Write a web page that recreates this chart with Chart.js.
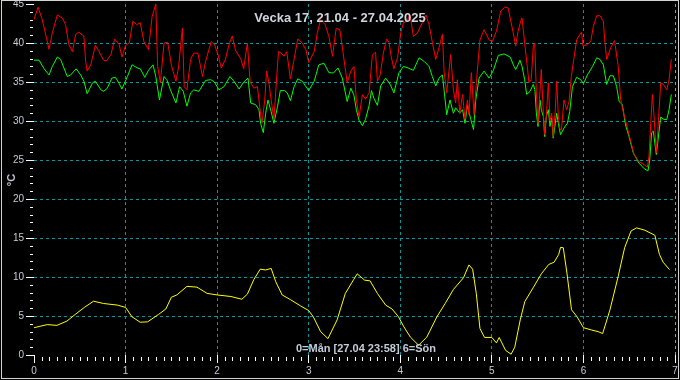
<!DOCTYPE html>
<html>
<head>
<meta charset="utf-8">
<script src="https://cdn.jsdelivr.net/npm/chart.js@4"></script>
<style>
  html, body { margin: 0; padding: 0; background: #000; }
</style>
</head>
<body>
<canvas id="vecka" width="680" height="380"></canvas>
<script>
// axis ranges and texts
const dayMin = 0, dayMax = 7;
const tempMin = 0, tempMax = 45;
const titleText = 'Vecka 17, 21.04 - 27.04.2025';
const subText = '0=Mån [27.04 23:58] 6=Sön';
const unitText = '°C';

// red series (day 0=Mån .. 7)
const redDays = [0,0.044,0.09,0.164,0.2,0.255,0.31,0.345,0.38,0.42,0.455,0.49,0.545,0.564,0.58,0.62,0.67,0.71,0.76,0.79,0.84,0.88,0.93,0.96,
  1.0,1.04,1.08,1.12,1.16,1.2,1.25,1.29,1.33,1.35,1.38,1.42,1.46,1.5,1.55,1.58,1.62,1.64,1.67,1.71,1.745,
  1.79,1.84,1.874,1.936,1.97,2.01,2.045,2.09,2.13,2.165,2.2,2.26,2.29,2.33,2.36,2.4,2.44,2.475,2.49,2.52,2.54,2.566,2.59,2.62,2.65,2.67,2.7,2.73,2.76,2.8,2.84,2.88,2.93,2.97,
  3.0,3.06,3.094,3.13,3.18,3.22,3.26,3.3,3.34,3.37,3.42,3.46,3.494,
  3.52,3.55,3.586,3.62,3.66,3.695,3.73,3.75,3.78,3.815,3.85,3.877,3.9,3.93,3.97,4.005,4.034,4.07,4.107,4.143,4.187,4.24,4.28,4.314,4.35,4.387,4.423,4.46,4.478,4.507,4.55,4.58,4.605,4.623,4.65,4.68,4.707,4.733,4.75,4.776,4.805,4.835,4.87,4.915,4.97,
  5.005,5.05,5.097,5.14,5.177,5.242,
  5.26,5.286,5.315,5.33,5.358,5.387,5.405,5.43,5.453,5.468,5.486,5.504,5.526,5.54,5.562,5.577,5.595,5.617,5.635,5.653,5.67,5.693,5.708,5.726,5.744,5.76,5.788,5.817,5.843,5.868,5.897,5.926,5.95,5.98,5.995,
  6.043,6.08,6.108,6.145,6.18,6.218,6.232,6.254,6.298,6.34,6.38,6.407,6.443,6.48,6.516,6.553,6.607,6.662,6.698,6.716,6.735,6.753,6.77,6.796,6.815,6.844,6.873,6.91,6.935,6.96];
const redTemps = [43.0,44.6,43.0,39.2,41.3,43.6,43.2,42.35,39.8,38.9,41.1,41.4,40.85,37.65,36.4,37.2,39.7,38.9,37.8,37.7,38.5,40.5,39.8,38.2,
  39.7,40.0,42.8,42.35,42.6,40.2,39.15,43.4,45.0,37.0,34.9,40.0,40.1,37.2,35.1,37.0,41.9,34.4,34.0,37.9,38.7,
  38.7,35.7,37.65,40.2,39.8,38.5,36.8,37.9,39.8,40.9,39.1,37.9,36.7,40.0,35.1,34.2,34.4,30.8,29.7,32.7,36.4,34.9,32.7,30.2,35.5,38.9,38.7,38.3,38.9,35.4,37.9,40.5,40.0,39.1,
  37.5,38.9,41.3,43.0,42.35,40.85,38.3,41.9,41.7,39.2,34.9,36.4,37.0,
  32.7,30.5,33.4,32.8,33.6,38.5,38.8,35.1,35.9,38.7,40.5,40.1,38.3,36.7,38.1,41.3,42.6,42.8,43.6,40.85,41.3,42.6,43.6,42.35,40.1,37.9,39.4,41.1,36.4,33.6,38.5,34.0,32.3,35.3,31.0,33.4,30.2,32.7,30.8,36.2,30.8,35.5,40.4,41.7,40.4,
  40.2,41.5,44.1,44.6,44.5,40.8,
  39.6,41.5,42.8,43.2,40.0,37.0,34.9,35.3,39.6,40.0,33.6,29.7,34.0,36.6,31.0,28.25,30.6,34.9,30.0,31.0,28.0,31.45,35.1,30.6,28.9,28.9,32.7,31.45,32.5,35.7,38.1,40.4,40.9,41.4,39.6,
  39.8,40.2,42.1,43.5,43.5,42.8,40.4,37.9,39.4,40.3,37.0,32.7,30.8,29.1,27.4,25.7,24.8,24.4,24.1,25.5,29.7,33.4,30.8,25.9,29.3,34.9,34.7,34.0,35.3,37.9];

// green series
const greenDays = [0,0.055,0.11,0.164,0.2,0.255,0.29,0.364,0.4,0.46,0.51,0.545,0.58,0.64,0.67,0.73,0.76,0.8,0.85,0.89,0.93,0.96,
  1.02,1.07,1.13,1.16,1.21,1.25,1.3,1.33,1.37,1.42,1.45,1.49,1.55,1.59,1.63,1.67,1.71,1.745,
  1.8,1.874,1.93,1.97,2.02,2.075,2.14,2.19,2.24,2.29,2.337,2.366,2.42,2.457,2.475,2.504,2.53,2.555,2.59,2.62,2.66,2.69,2.737,2.766,2.8,2.84,2.88,2.93,
  3.0,3.06,3.11,3.167,3.22,3.27,3.32,3.367,3.42,3.46,3.494,
  3.52,3.55,3.586,3.62,3.66,3.685,3.713,3.75,3.786,3.84,3.89,3.93,3.986,4.034,4.085,4.143,4.205,4.26,4.314,4.35,4.387,4.423,4.46,4.478,4.507,4.543,4.58,4.605,4.65,4.68,4.707,4.733,4.77,4.8,4.824,4.86,4.915,4.97,
  5.017,5.07,5.133,5.2,5.242,
  5.26,5.286,5.307,5.33,5.358,5.38,5.417,5.453,5.47,5.486,5.504,5.526,5.54,5.562,5.577,5.595,5.617,5.635,5.653,5.67,5.693,5.708,5.726,5.75,5.788,5.825,5.85,5.88,5.926,5.97,
  6.0,6.043,6.1,6.145,6.18,6.218,6.236,6.254,6.29,6.327,6.363,6.39,6.425,6.46,6.498,6.545,6.607,6.662,6.705,6.724,6.745,6.763,6.796,6.815,6.844,6.88,6.91,6.935,6.96];
const greenTemps = [37.8,37.8,36.7,35.9,37.0,38.2,37.9,35.7,35.9,36.7,35.9,35.1,33.5,34.9,35.1,34.0,33.8,34.2,35.5,35.6,34.8,34.1,
  35.7,37.2,36.8,36.7,35.6,36.5,37.2,35.7,32.7,35.7,35.3,34.0,32.3,34.4,33.8,31.9,33.6,34.0,
  33.8,35.2,35.3,35.0,34.0,34.4,35.7,35.0,34.1,35.0,35.5,32.3,32.1,31.45,29.7,28.5,31.0,32.7,31.2,29.7,31.9,33.9,33.9,33.6,32.6,34.4,35.4,35.1,
  33.9,35.1,37.2,37.4,36.2,36.15,36.8,35.5,32.5,34.2,33.3,
  31.45,30.1,29.4,30.2,32.0,33.9,32.9,32.0,34.5,35.5,34.7,33.6,36.2,37.0,36.8,36.5,38.1,37.65,37.0,35.7,34.5,35.5,35.9,34.0,30.8,32.7,31.0,31.7,31.0,31.45,29.7,32.0,30.2,28.9,32.7,35.5,36.4,35.5,
  36.5,38.4,38.6,38.2,37.0,
  36.6,37.2,37.8,37.0,35.3,33.4,33.8,34.7,34.0,31.0,29.3,32.7,31.45,30.6,28.0,30.6,31.45,29.3,30.4,27.8,29.7,31.0,29.7,28.25,29.1,29.7,31.2,34.4,35.6,35.3,
  34.8,35.9,37.0,38.1,37.9,37.2,35.9,34.7,35.8,35.8,34.4,32.5,32.1,29.5,28.0,25.9,24.6,23.9,23.6,25.0,28.5,28.7,25.7,27.6,30.5,30.2,30.2,31.45,33.4];

// yellow series
const yellowDays = [0,0.145,0.25,0.36,0.45,0.55,0.65,0.76,0.91,1.0,1.07,1.16,1.24,1.36,1.44,1.5,1.56,1.67,1.78,1.89,
  2.0,2.15,2.27,2.33,2.4,2.47,2.53,2.59,2.64,2.71,2.8,2.91,3.0,3.05,3.13,3.21,3.31,3.4,3.49,3.53,3.61,3.67,3.75,3.84,3.91,3.98,
  4.04,4.11,4.2,4.29,4.4,4.49,4.58,4.69,4.75,4.79,4.83,4.87,4.92,5.0,5.05,5.08,5.15,5.21,5.25,5.31,5.36,5.45,5.54,5.62,5.68,5.73,5.75,5.78,5.82,5.87,5.93,
  6.0,6.09,6.16,6.21,6.29,6.38,6.45,6.52,6.58,6.67,6.78,6.83,6.87,6.94];
const yellowTemps = [3.5,3.9,3.8,4.35,5.2,6.1,6.9,6.6,6.4,6.1,4.9,4.2,4.25,5.2,5.9,7.4,7.7,8.8,8.7,7.9,
  7.7,7.5,7.15,7.8,9.65,11.0,10.9,11.1,9.4,7.7,7.1,6.3,5.7,4.9,3.0,2.1,4.5,7.9,9.65,10.4,9.6,9.5,7.9,6.4,5.9,4.9,
  3.6,2.3,1.25,2.3,4.9,6.6,8.4,9.9,11.55,11.0,7.9,3.4,2.25,2.25,1.55,2.25,0.6,0.1,1.0,4.5,6.85,8.6,10.4,11.6,11.9,12.9,13.8,13.75,10.5,5.8,4.9,
  3.5,3.2,3.0,2.75,5.8,10.1,13.75,15.9,16.3,16.0,15.35,12.9,11.9,10.95];

const labelColor = '#c4ccd8';
const gridTeal = '#009a9a';

function points(days, temps) {
  return days.map((d, i) => ({ x: d, y: temps[i] }));
}

function lineSet(label, days, temps, color) {
  return {
    label: label,
    data: points(days, temps),
    borderColor: color,
    borderWidth: 1,
    pointRadius: 0,
    tension: 0,
    fill: false
  };
}

const background = {
  id: 'background',
  beforeDraw(chart) {
    const c = chart.ctx;
    c.save();
    c.fillStyle = '#000';
    c.fillRect(0, 0, chart.width, chart.height);
    c.restore();
  }
};

// minor ticks, texts and frame
const extras = {
  id: 'extras',
  afterDraw(chart) {
    const c = chart.ctx;
    const area = chart.chartArea;
    const xs = chart.scales.x, ys = chart.scales.y;
    c.save();
    c.strokeStyle = '#ffffff';
    c.lineWidth = 1;
    c.beginPath();
    for (let v = tempMin; v <= tempMax; v++) {
      if (v % 5 === 0) continue;
      const py = Math.round(ys.getPixelForValue(v)) + 0.5;
      c.moveTo(area.left - 4, py);
      c.lineTo(area.left - 1, py);
    }
    for (let k = 0; k <= dayMax * 12; k++) {
      if (k % 12 === 0) continue;
      const px = Math.round(xs.getPixelForValue(k / 12)) + 0.5;
      c.moveTo(px, area.bottom + 2);
      c.lineTo(px, area.bottom + 6);
    }
    c.stroke();

    c.fillStyle = '#d0d4dc';
    c.textAlign = 'center';
    c.textBaseline = 'alphabetic';
    c.font = 'bold 13px "Liberation Sans", Arial, sans-serif';
    c.fillText(titleText, 340, 22);
    c.font = 'bold 11px "Liberation Sans", Arial, sans-serif';
    c.fillStyle = labelColor;
    c.fillText(subText, 366, 352);

    c.save();
    c.translate(15, 180);
    c.rotate(-Math.PI / 2);
    c.font = 'bold 11px "Liberation Sans", Arial, sans-serif';
    c.fillText(unitText, 0, 0);
    c.restore();

    c.strokeStyle = '#d4d4d4';
    c.strokeRect(1.5, 0.5, 677, 378);
    c.restore();
  }
};

new Chart(document.getElementById('vecka'), {
  type: 'line',
  data: {
    datasets: [
      lineSet('Röd', redDays, redTemps, '#ff0000'),
      lineSet('Grön', greenDays, greenTemps, '#00ff00'),
      lineSet('Gul', yellowDays, yellowTemps, '#ffff00')
    ]
  },
  options: {
    responsive: false,
    animation: false,
    layout: { padding: { top: 4, right: 5, bottom: 0, left: 0 } },
    plugins: {
      legend: { display: false },
      tooltip: { enabled: false }
    },
    scales: {
      x: {
        type: 'linear',
        min: dayMin,
        max: dayMax,
        afterFit: s => { s.height = 25; s.paddingLeft = 0; s.paddingRight = 0; },
        ticks: {
          stepSize: 1,
          color: labelColor,
          font: { family: 'Liberation Sans', size: 10 },
          padding: 2,
          maxRotation: 0,
          autoSkip: false
        },
        grid: {
          color: ctx => ctx.tick.value === dayMin ? 'rgba(0,0,0,0)' : (ctx.tick.value === dayMax ? '#00d8f0' : gridTeal),
          tickColor: '#ffffff',
          tickLength: 8,
          lineWidth: 1
        },
        border: { display: false, dash: [3, 3] }
      },
      y: {
        min: tempMin,
        max: tempMax,
        afterFit: s => { s.width = 34; s.paddingTop = 0; s.paddingBottom = 0; },
        ticks: {
          stepSize: 5,
          color: labelColor,
          font: { family: 'Liberation Sans', size: 10 },
          padding: 2
        },
        grid: {
          color: ctx => (ctx.tick.value === tempMin || ctx.tick.value === tempMax) ? 'rgba(0,0,0,0)' : gridTeal,
          tickColor: '#ffffff',
          tickLength: 8,
          lineWidth: 1
        },
        border: { display: false, dash: [3, 3] }
      }
    }
  },
  plugins: [background, extras]
});
</script>
</body>
</html>
